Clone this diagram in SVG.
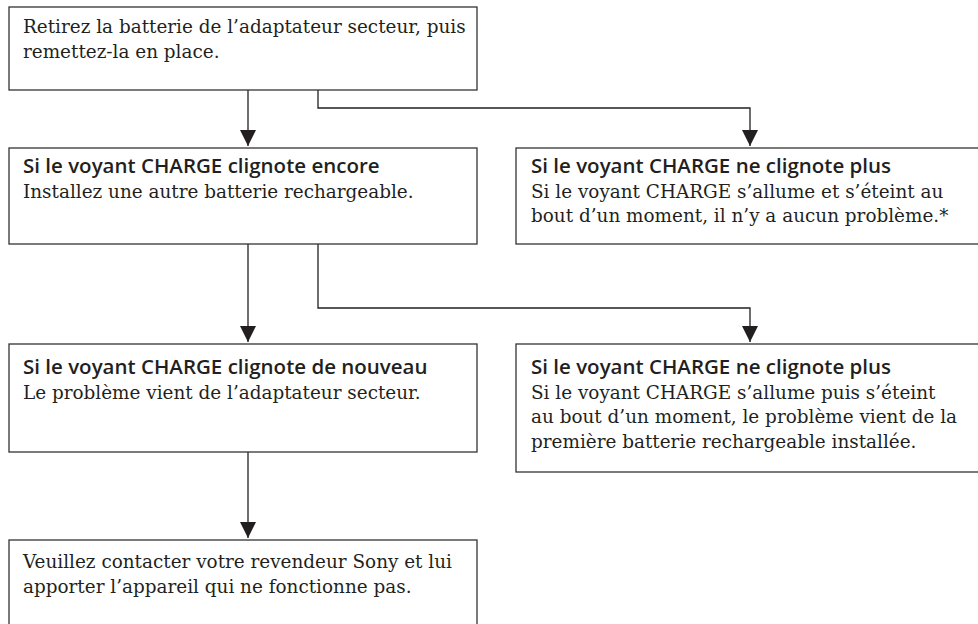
<svg xmlns="http://www.w3.org/2000/svg" width="978" height="624" viewBox="0 0 978 624">
<style>
.box{fill:#fff;stroke:#333;stroke-width:1.3}
.t{font-family:"DejaVu Serif","Liberation Serif",serif;font-size:18.4px;fill:#231f20}
.b{font-family:"Open Sans","Liberation Sans",sans-serif;font-weight:600;font-size:20.5px;fill:#231f20}
.c{fill:none;stroke:#231f20;stroke-width:1.3}
</style>
<defs>
<marker id="ah" markerWidth="16" markerHeight="16" viewBox="0 0 16 16" refX="16" refY="8" orient="auto" markerUnits="userSpaceOnUse">
<path d="M0,0 L16,8 L0,16 Z" fill="#231f20"/>
</marker>
</defs>
<rect width="978" height="624" fill="#fff"/>
<g id="connectors">
<path class="c" d="M248,90 V146" marker-end="url(#ah)"/>
<path class="c" d="M318,90 V108 H750 V146" marker-end="url(#ah)"/>
<path class="c" d="M248,244 V342" marker-end="url(#ah)"/>
<path class="c" d="M318,244 V308 H750 V342" marker-end="url(#ah)"/>
<path class="c" d="M248,452 V538" marker-end="url(#ah)"/>
</g>
<g id="n1">
<rect class="box" x="9" y="7" width="468" height="83"/>
<text class="t" x="23" y="33">Retirez la batterie de l’adaptateur secteur, puis</text>
<text class="t" x="23" y="58">remettez-la en place.</text>
</g>
<g id="n2">
<rect class="box" x="9" y="148" width="468" height="96"/>
<text class="b" x="23" y="173">Si le voyant CHARGE clignote encore</text>
<text class="t" x="23" y="198">Installez une autre batterie rechargeable.</text>
</g>
<g id="n3">
<rect class="box" x="516" y="148" width="470" height="96"/>
<text class="b" x="531" y="173">Si le voyant CHARGE ne clignote plus</text>
<text class="t" x="531" y="198">Si le voyant CHARGE s’allume et s’éteint au</text>
<text class="t" x="531" y="222">bout d’un moment, il n’y a aucun problème.*</text>
</g>
<g id="n4">
<rect class="box" x="9" y="344" width="468" height="108"/>
<text class="b" x="23" y="374">Si le voyant CHARGE clignote de nouveau</text>
<text class="t" x="23" y="399">Le problème vient de l’adaptateur secteur.</text>
</g>
<g id="n5">
<rect class="box" x="516" y="344" width="470" height="128"/>
<text class="b" x="531" y="374">Si le voyant CHARGE ne clignote plus</text>
<text class="t" x="531" y="399">Si le voyant CHARGE s’allume puis s’éteint</text>
<text class="t" x="531" y="423">au bout d’un moment, le problème vient de la</text>
<text class="t" x="531" y="448">première batterie rechargeable installée.</text>
</g>
<g id="n6">
<rect class="box" x="9" y="540" width="468" height="95"/>
<text class="t" x="23" y="568">Veuillez contacter votre revendeur Sony et lui</text>
<text class="t" x="23" y="593">apporter l’appareil qui ne fonctionne pas.</text>
</g>
</svg>
